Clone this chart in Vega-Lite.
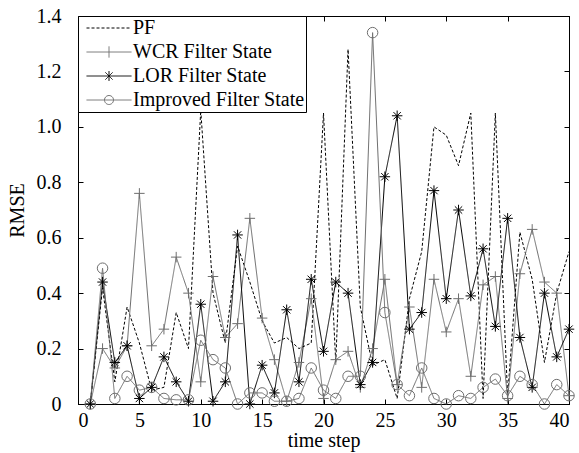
{
  "$schema": "https://vega.github.io/schema/vega-lite/v6.json",
  "width": 491,
  "height": 388,
  "autosize": {"type": "none"},
  "padding": {"left": 78, "top": 16, "right": 10, "bottom": 49},
  "background": "white",
  "config": {
    "view": {"stroke": "black", "strokeWidth": 1},
    "font": "Liberation Serif",
    "axis": {
      "grid": false,
      "domainColor": "black",
      "tickColor": "black",
      "tickSize": -5,
      "labelColor": "black",
      "labelFont": "Liberation Serif",
      "labelFontSize": 20,
      "titleFont": "Liberation Serif",
      "titleFontSize": 20,
      "titleFontWeight": "normal",
      "titleColor": "black"
    },
    "legend": {
      "orient": "top-left", "offset": 0, "title": null,
      "symbolSize": 2025, "clipHeight": 22, "rowPadding": 2, "symbolOffset": 7,
      "labelFont": "Liberation Serif", "labelFontSize": 20, "labelColor": "black", "labelOffset": 1, "labelLimit": 400,
      "strokeColor": "black", "strokeWidth": 1, "fillColor": "white", "padding": 1, "cornerRadius": 0,
      "symbolStrokeWidth": 1
    }
  },
  "datasets": {
    "rmse": [
      {"s":"PF","t":1,"v":0},{"s":"PF","t":2,"v":0.42},{"s":"PF","t":3,"v":0.08},{"s":"PF","t":4,"v":0.35},{"s":"PF","t":5,"v":0.22},
      {"s":"PF","t":6,"v":0.05},{"s":"PF","t":7,"v":0.06},{"s":"PF","t":8,"v":0.33},{"s":"PF","t":9,"v":0.20},{"s":"PF","t":10,"v":1.06},
      {"s":"PF","t":11,"v":0.40},{"s":"PF","t":12,"v":0.22},{"s":"PF","t":13,"v":0.57},{"s":"PF","t":14,"v":0.44},{"s":"PF","t":15,"v":0.30},
      {"s":"PF","t":16,"v":0.22},{"s":"PF","t":17,"v":0.24},{"s":"PF","t":18,"v":0.20},{"s":"PF","t":19,"v":0.22},{"s":"PF","t":20,"v":1.05},
      {"s":"PF","t":21,"v":0.15},{"s":"PF","t":22,"v":1.28},{"s":"PF","t":23,"v":0.35},{"s":"PF","t":24,"v":0.14},{"s":"PF","t":25,"v":0.16},
      {"s":"PF","t":26,"v":0.02},{"s":"PF","t":27,"v":0.38},{"s":"PF","t":28,"v":0.55},{"s":"PF","t":29,"v":1.0},{"s":"PF","t":30,"v":0.97},
      {"s":"PF","t":31,"v":0.86},{"s":"PF","t":32,"v":1.05},{"s":"PF","t":33,"v":0.02},{"s":"PF","t":34,"v":1.05},{"s":"PF","t":35,"v":0.03},
      {"s":"PF","t":36,"v":0.62},{"s":"PF","t":37,"v":0.45},{"s":"PF","t":38,"v":0.15},{"s":"PF","t":39,"v":0.40},{"s":"PF","t":40,"v":0.55},

      {"s":"WCR Filter State","t":1,"v":0},{"s":"WCR Filter State","t":2,"v":0.20},{"s":"WCR Filter State","t":3,"v":0.13},{"s":"WCR Filter State","t":4,"v":0.21},{"s":"WCR Filter State","t":5,"v":0.76},
      {"s":"WCR Filter State","t":6,"v":0.21},{"s":"WCR Filter State","t":7,"v":0.27},{"s":"WCR Filter State","t":8,"v":0.53},{"s":"WCR Filter State","t":9,"v":0.40},{"s":"WCR Filter State","t":10,"v":0.08},
      {"s":"WCR Filter State","t":11,"v":0.46},{"s":"WCR Filter State","t":12,"v":0.24},{"s":"WCR Filter State","t":13,"v":0.29},{"s":"WCR Filter State","t":14,"v":0.67},{"s":"WCR Filter State","t":15,"v":0.31},
      {"s":"WCR Filter State","t":16,"v":0.16},{"s":"WCR Filter State","t":17,"v":0.01},{"s":"WCR Filter State","t":18,"v":0.15},{"s":"WCR Filter State","t":19,"v":0.38},{"s":"WCR Filter State","t":20,"v":0.02},
      {"s":"WCR Filter State","t":21,"v":0.16},{"s":"WCR Filter State","t":22,"v":0.19},{"s":"WCR Filter State","t":23,"v":0.06},{"s":"WCR Filter State","t":24,"v":0.20},{"s":"WCR Filter State","t":25,"v":0.45},
      {"s":"WCR Filter State","t":26,"v":0.07},{"s":"WCR Filter State","t":27,"v":0.35},{"s":"WCR Filter State","t":28,"v":0.06},{"s":"WCR Filter State","t":29,"v":0.45},{"s":"WCR Filter State","t":30,"v":0.26},
      {"s":"WCR Filter State","t":31,"v":0.38},{"s":"WCR Filter State","t":32,"v":0.10},{"s":"WCR Filter State","t":33,"v":0.43},{"s":"WCR Filter State","t":34,"v":0.46},{"s":"WCR Filter State","t":35,"v":0.02},
      {"s":"WCR Filter State","t":36,"v":0.47},{"s":"WCR Filter State","t":37,"v":0.63},{"s":"WCR Filter State","t":38,"v":0.44},{"s":"WCR Filter State","t":39,"v":0.40},{"s":"WCR Filter State","t":40,"v":0.03},

      {"s":"LOR Filter State","t":1,"v":0},{"s":"LOR Filter State","t":2,"v":0.44},{"s":"LOR Filter State","t":3,"v":0.15},{"s":"LOR Filter State","t":4,"v":0.21},{"s":"LOR Filter State","t":5,"v":0.02},
      {"s":"LOR Filter State","t":6,"v":0.06},{"s":"LOR Filter State","t":7,"v":0.17},{"s":"LOR Filter State","t":8,"v":0.08},{"s":"LOR Filter State","t":9,"v":0.01},{"s":"LOR Filter State","t":10,"v":0.36},
      {"s":"LOR Filter State","t":11,"v":0.01},{"s":"LOR Filter State","t":12,"v":0.08},{"s":"LOR Filter State","t":13,"v":0.61},{"s":"LOR Filter State","t":14,"v":0.0},{"s":"LOR Filter State","t":15,"v":0.14},
      {"s":"LOR Filter State","t":16,"v":0.04},{"s":"LOR Filter State","t":17,"v":0.34},{"s":"LOR Filter State","t":18,"v":0.08},{"s":"LOR Filter State","t":19,"v":0.45},{"s":"LOR Filter State","t":20,"v":0.19},
      {"s":"LOR Filter State","t":21,"v":0.44},{"s":"LOR Filter State","t":22,"v":0.40},{"s":"LOR Filter State","t":23,"v":0.07},{"s":"LOR Filter State","t":24,"v":0.15},{"s":"LOR Filter State","t":25,"v":0.82},
      {"s":"LOR Filter State","t":26,"v":1.04},{"s":"LOR Filter State","t":27,"v":0.27},{"s":"LOR Filter State","t":28,"v":0.33},{"s":"LOR Filter State","t":29,"v":0.77},{"s":"LOR Filter State","t":30,"v":0.38},
      {"s":"LOR Filter State","t":31,"v":0.70},{"s":"LOR Filter State","t":32,"v":0.39},{"s":"LOR Filter State","t":33,"v":0.56},{"s":"LOR Filter State","t":34,"v":0.28},{"s":"LOR Filter State","t":35,"v":0.67},
      {"s":"LOR Filter State","t":36,"v":0.24},{"s":"LOR Filter State","t":37,"v":0.06},{"s":"LOR Filter State","t":38,"v":0.40},{"s":"LOR Filter State","t":39,"v":0.17},{"s":"LOR Filter State","t":40,"v":0.27},

      {"s":"Improved Filter State","t":1,"v":0},{"s":"Improved Filter State","t":2,"v":0.49},{"s":"Improved Filter State","t":3,"v":0.02},{"s":"Improved Filter State","t":4,"v":0.10},{"s":"Improved Filter State","t":5,"v":0.05},
      {"s":"Improved Filter State","t":6,"v":0.06},{"s":"Improved Filter State","t":7,"v":0.02},{"s":"Improved Filter State","t":8,"v":0.015},{"s":"Improved Filter State","t":9,"v":0.015},{"s":"Improved Filter State","t":10,"v":0.23},
      {"s":"Improved Filter State","t":11,"v":0.16},{"s":"Improved Filter State","t":12,"v":0.13},{"s":"Improved Filter State","t":13,"v":0.0},{"s":"Improved Filter State","t":14,"v":0.04},{"s":"Improved Filter State","t":15,"v":0.04},
      {"s":"Improved Filter State","t":16,"v":0.01},{"s":"Improved Filter State","t":17,"v":0.01},{"s":"Improved Filter State","t":18,"v":0.02},{"s":"Improved Filter State","t":19,"v":0.13},{"s":"Improved Filter State","t":20,"v":0.05},
      {"s":"Improved Filter State","t":21,"v":0.02},{"s":"Improved Filter State","t":22,"v":0.10},{"s":"Improved Filter State","t":23,"v":0.10},{"s":"Improved Filter State","t":24,"v":1.34},{"s":"Improved Filter State","t":25,"v":0.33},
      {"s":"Improved Filter State","t":26,"v":0.07},{"s":"Improved Filter State","t":27,"v":0.03},{"s":"Improved Filter State","t":28,"v":0.13},{"s":"Improved Filter State","t":29,"v":0.02},{"s":"Improved Filter State","t":30,"v":0.0},
      {"s":"Improved Filter State","t":31,"v":0.03},{"s":"Improved Filter State","t":32,"v":0.02},{"s":"Improved Filter State","t":33,"v":0.06},{"s":"Improved Filter State","t":34,"v":0.09},{"s":"Improved Filter State","t":35,"v":0.03},
      {"s":"Improved Filter State","t":36,"v":0.10},{"s":"Improved Filter State","t":37,"v":0.07},{"s":"Improved Filter State","t":38,"v":0.0},{"s":"Improved Filter State","t":39,"v":0.07},{"s":"Improved Filter State","t":40,"v":0.03}
    ]
  },
  "data": {"name": "rmse"},
  "layer": [
    {
      "mark": {"type": "line", "strokeWidth": 1},
      "encoding": {
        "x": {"field": "t", "type": "quantitative", "scale": {"domain": [0, 40], "nice": false},
              "axis": {"orient": "bottom", "values": [0,5,10,15,20,25,30,35,40], "title": "time step", "labelPadding": 11, "titlePadding": 0}},
        "y": {"field": "v", "type": "quantitative", "scale": {"domain": [0, 1.4], "nice": false},
              "axis": {"orient": "left", "values": [0,0.2,0.4,0.6,0.8,1.0,1.2,1.4], "title": "RMSE", "labelPadding": 22, "titlePadding": 9,
                       "labelExpr": "datum.value == 0 ? '0' : format(datum.value, '.1f')"}},
        "color": {"field": "s", "type": "nominal", "legend": null,
                  "scale": {"range": ["#6e6e6e","black","black","#6e6e6e"]}},
        "strokeDash": {"field": "s", "type": "nominal", "legend": null,
                  "scale": {"range": [[1,0],[1,0],[3,2],[1,0]]}}
      }
    },
    {
      "transform": [{"filter": "datum.s !== 'PF'"}],
      "mark": {"type": "point", "filled": false, "strokeWidth": 1, "size": 110, "opacity": 1},
      "encoding": {
        "x": {"field": "t", "type": "quantitative",
              "axis": {"orient": "top", "values": [0,5,10,15,20,25,30,35,40], "labels": false, "title": null}},
        "y": {"field": "v", "type": "quantitative",
              "axis": {"orient": "right", "values": [0,0.2,0.4,0.6,0.8,1.0,1.2,1.4], "labels": false, "title": null}},
        "color": {"field": "s", "type": "nominal", "legend": null,
                  "scale": {"domain": ["WCR Filter State","LOR Filter State","Improved Filter State"], "range": ["#6e6e6e","black","#6e6e6e"]}},
        "shape": {"field": "s", "type": "nominal", "legend": null,
                  "scale": {"domain": ["WCR Filter State","LOR Filter State","Improved Filter State"],
                            "range": ["M-1,0L1,0M0,-1L0,1", "M-1,0L1,0M0,-1L0,1M-0.7,-0.7L0.7,0.7M-0.7,0.7L0.7,-0.7", "circle"]}}
      }
    },
    {
      "transform": [{"filter": "false"}],
      "mark": {"type": "point", "filled": false, "strokeWidth": 1, "opacity": 1},
      "encoding": {
        "x": {"field": "t", "type": "quantitative", "axis": null},
        "y": {"field": "v", "type": "quantitative", "axis": null},
        "color": {"field": "s", "type": "nominal",
                  "scale": {"domain": ["PF","WCR Filter State","LOR Filter State","Improved Filter State"], "range": ["black","#6e6e6e","black","#6e6e6e"]},
                  "legend": {"orient": "top-left", "title": null, "strokeColor": "black", "fillColor": "white"}},
        "shape": {"field": "s", "type": "nominal",
                  "scale": {"domain": ["PF","WCR Filter State","LOR Filter State","Improved Filter State"],
                            "range": ["M-1,0L1,0",
                                      "M-1,0L1,0M0,-0.25L0,0.25",
                                      "M-1,0L1,0M0,-0.22L0,0.22M-0.16,-0.16L0.16,0.16M-0.16,0.16L0.16,-0.16",
                                      "M-1,0L1,0M-0.2,0A0.2,0.2,0,1,1,0.2,0A0.2,0.2,0,1,1,-0.2,0"]},
                  "legend": {"orient": "top-left", "title": null, "strokeColor": "black", "fillColor": "white"}},
        "strokeDash": {"field": "s", "type": "nominal",
                  "scale": {"domain": ["PF","WCR Filter State","LOR Filter State","Improved Filter State"], "range": [[3,2],[1,0],[1,0],[1,0]]},
                  "legend": {"orient": "top-left", "title": null, "strokeColor": "black", "fillColor": "white"}}
      }
    }
  ],
  "resolve": {
    "axis": {"x": "independent", "y": "independent"},
    "scale": {"color": "independent", "shape": "independent", "strokeDash": "independent"},
    "legend": {"color": "independent", "shape": "independent", "strokeDash": "independent"}
  }
}
